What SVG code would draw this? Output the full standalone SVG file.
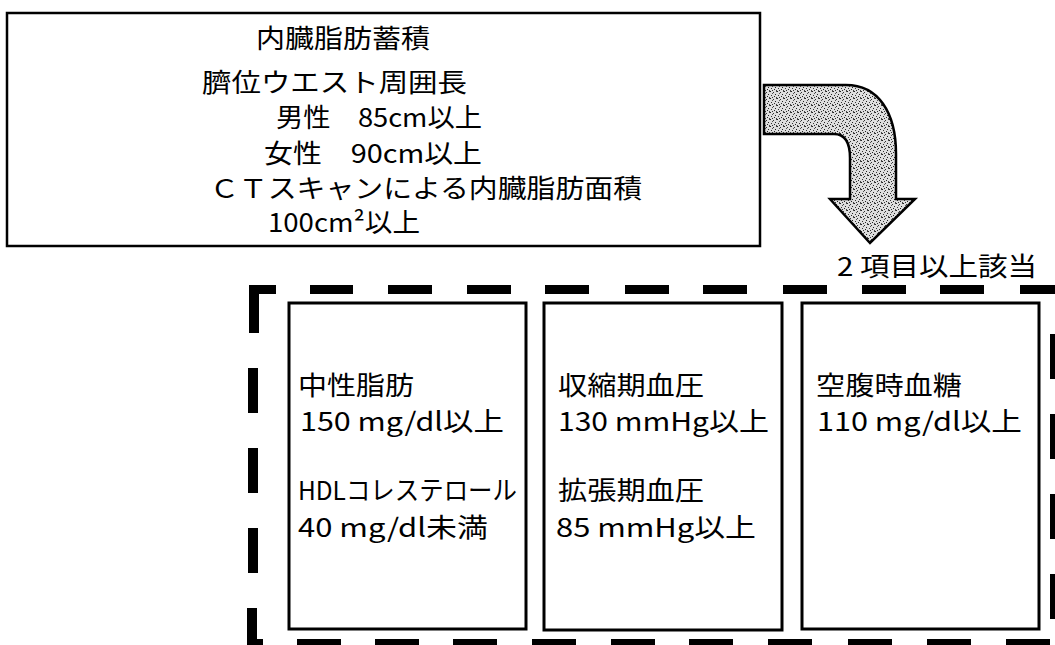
<svg xmlns="http://www.w3.org/2000/svg" width="1055" height="645" viewBox="0 0 1055 645">
<style>
text{font-family:"Noto Sans CJK JP","Noto Sans CJK SC",sans-serif;font-size:26px;fill:#000}
.box{fill:#fff;stroke:#000;stroke-width:3}
.dash{fill:#000}
</style>
<defs>
<pattern id="stip" width="7" height="7" patternUnits="userSpaceOnUse">
<rect width="7" height="7" fill="#dedede"/>
<rect x="0" y="0" width="1" height="1" fill="#222"/>
<rect x="3" y="1" width="1" height="1" fill="#333"/>
<rect x="5" y="3" width="1" height="1" fill="#222"/>
<rect x="1" y="4" width="1" height="1" fill="#333"/>
<rect x="4" y="5" width="1" height="1" fill="#222"/>
<rect x="6" y="6" width="1" height="1" fill="#444"/>
<rect x="2" y="2" width="1" height="1" fill="#555"/>
<rect x="6" y="0" width="1" height="1" fill="#444"/>
<rect x="2" y="6" width="1" height="1" fill="#333"/>
</pattern>
</defs>
<rect width="1055" height="645" fill="#fff"/>

<g id="visceral-fat">
<rect class="box" x="7" y="13" width="753" height="233" style="stroke-width:2.5"/>
<text x="256" y="48" textLength="174" lengthAdjust="spacingAndGlyphs">内臓脂肪蓄積</text>
<text x="202" y="92" textLength="265" lengthAdjust="spacingAndGlyphs">臍位ウエスト周囲長</text>
<text x="276" y="127" textLength="206" lengthAdjust="spacingAndGlyphs">男性　85cm以上</text>
<text x="264" y="163" textLength="218" lengthAdjust="spacingAndGlyphs">女性　90cm以上</text>
<text x="210" y="198" textLength="432" lengthAdjust="spacingAndGlyphs">ＣＴスキャンによる内臓脂肪面積</text>
<text x="268" y="232" textLength="152" lengthAdjust="spacingAndGlyphs">100cm²以上</text>
</g>

<g id="connectors">
<path d="M764,85 L846,85 C878,85 896,112 896,154 L896,199 L915,199 L870,243 L830,199 L850,199 L850,158 C850,142 845,134 834,134 L764,134 Z" fill="url(#stip)" stroke="#000" stroke-width="2.5" stroke-linejoin="miter"/>
</g>

<g id="condition-label">
<text x="837" y="276" textLength="200" lengthAdjust="spacingAndGlyphs">2 項目以上該当</text>
</g>

<g id="dashed-frame">
<rect class="dash" x="249" y="285" width="10" height="48"/>
<rect class="dash" x="249" y="285" width="27" height="9"/>
<rect class="dash" x="310" y="285" width="43" height="9"/>
<rect class="dash" x="388" y="285" width="44" height="9"/>
<rect class="dash" x="467" y="285" width="44" height="9"/>
<rect class="dash" x="545" y="285" width="44" height="9"/>
<rect class="dash" x="625" y="285" width="44" height="9"/>
<rect class="dash" x="703" y="285" width="44" height="9"/>
<rect class="dash" x="783" y="285" width="44" height="9"/>
<rect class="dash" x="862" y="285" width="44" height="9"/>
<rect class="dash" x="940" y="285" width="44" height="9"/>
<rect class="dash" x="1020" y="285" width="44" height="9"/>
<rect class="dash" x="248" y="368" width="10" height="45"/>
<rect class="dash" x="248" y="448" width="10" height="45"/>
<rect class="dash" x="248" y="528" width="10" height="45"/>
<rect class="dash" x="247" y="608" width="10" height="40"/>
<rect class="dash" x="247" y="639" width="16" height="9"/>
<rect class="dash" x="297" y="639" width="44" height="9"/>
<rect class="dash" x="375" y="639" width="44" height="9"/>
<rect class="dash" x="453" y="639" width="44" height="9"/>
<rect class="dash" x="532" y="639" width="44" height="9"/>
<rect class="dash" x="611" y="639" width="44" height="9"/>
<rect class="dash" x="689" y="639" width="44" height="9"/>
<rect class="dash" x="768" y="639" width="44" height="9"/>
<rect class="dash" x="848" y="639" width="44" height="9"/>
<rect class="dash" x="927" y="639" width="44" height="9"/>
<rect class="dash" x="1006" y="639" width="44" height="9"/>
<rect class="dash" x="1050" y="334" width="10" height="45"/>
<rect class="dash" x="1050" y="414" width="10" height="45"/>
<rect class="dash" x="1050" y="494" width="10" height="45"/>
<rect class="dash" x="1050" y="574" width="10" height="45"/>
</g>

<g id="lipids">
<rect class="box" x="289" y="303" width="237" height="326"/>
<text x="298" y="395" textLength="116" lengthAdjust="spacingAndGlyphs">中性脂肪</text>
<text x="300" y="431" textLength="204" lengthAdjust="spacingAndGlyphs">150 mg/dl以上</text>
<text x="298" y="500" textLength="219" lengthAdjust="spacingAndGlyphs">HDLコレステロール</text>
<text x="298" y="537" textLength="190" lengthAdjust="spacingAndGlyphs">40 mg/dl未満</text>
</g>

<g id="blood-pressure">
<rect class="box" x="544" y="303" width="238" height="327"/>
<text x="558" y="395" textLength="146" lengthAdjust="spacingAndGlyphs">収縮期血圧</text>
<text x="558" y="431" textLength="211" lengthAdjust="spacingAndGlyphs">130 mmHg以上</text>
<text x="558" y="500" textLength="146" lengthAdjust="spacingAndGlyphs">拡張期血圧</text>
<text x="556" y="537" textLength="200" lengthAdjust="spacingAndGlyphs">85 mmHg以上</text>
</g>

<g id="blood-glucose">
<rect class="box" x="802" y="303" width="237" height="326"/>
<text x="816" y="395" textLength="146" lengthAdjust="spacingAndGlyphs">空腹時血糖</text>
<text x="817" y="431" textLength="205" lengthAdjust="spacingAndGlyphs">110 mg/dl以上</text>
</g>
</svg>
